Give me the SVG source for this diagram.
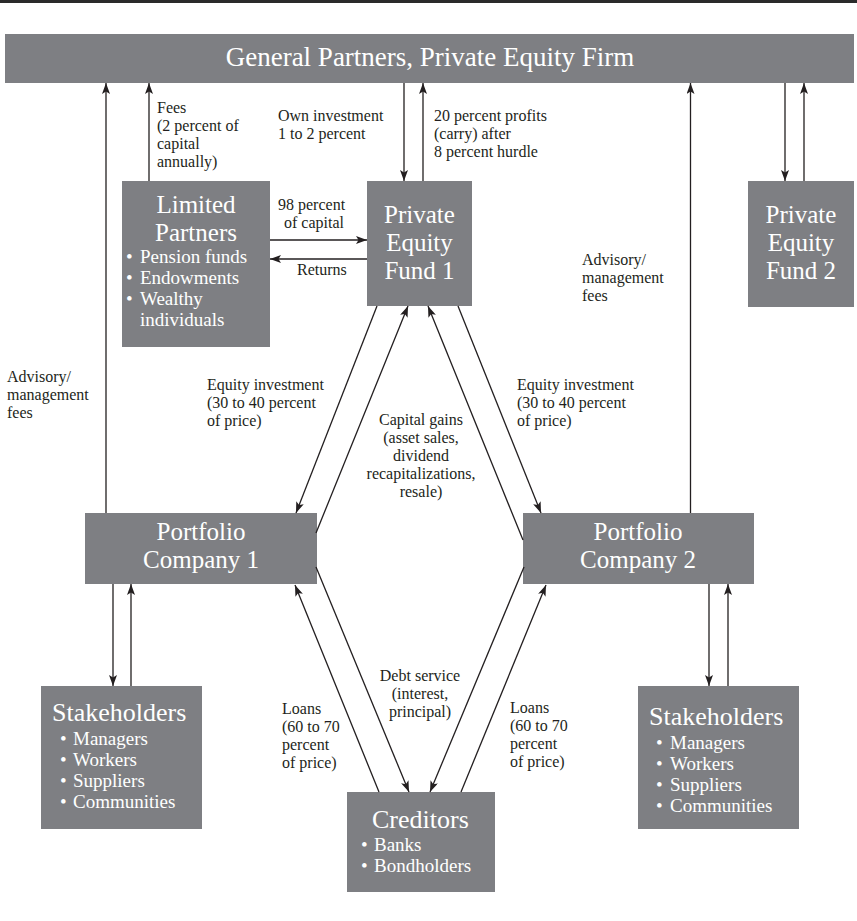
<svg xmlns="http://www.w3.org/2000/svg" width="857" height="921" viewBox="0 0 857 921">
<style>
.box{fill:#7e7f83}
.nt{font-family:"Liberation Serif","Times New Roman",serif;fill:#ffffff}
.h{font-size:26px}
.hf{font-size:25px}
.b{font-size:19px}
.lb{font-family:"Liberation Serif","Times New Roman",serif;font-size:16px;fill:#231f20}
.m{text-anchor:middle}
.c{stroke:#231f20;stroke-width:1.3;fill:none;marker-end:url(#ah)}
</style>
<defs>
<marker id="ah" markerUnits="userSpaceOnUse" markerWidth="11" markerHeight="8" refX="11" refY="4" orient="auto">
<path d="M0,0 L11,4 L0,8 L2.5,4 z" fill="#231f20"/>
</marker>
</defs>
<rect x="0" y="0" width="857" height="3" fill="#2a2a2a"/>

<g id="gp">
<rect class="box" x="5" y="34" width="849" height="49"/>
<text class="nt" x="430" y="66" font-size="27" text-anchor="middle">General Partners, Private Equity Firm</text>
</g>

<g id="lp">
<rect class="box" x="122" y="181" width="148" height="166"/>
<text class="nt"><tspan class="hf m" x="196" y="213">Limited</tspan><tspan class="hf m" x="196" y="241">Partners</tspan><tspan class="b" x="126" y="263">•</tspan><tspan class="b" x="140" y="263">Pension funds</tspan><tspan class="b" x="126" y="284">•</tspan><tspan class="b" x="140" y="284">Endowments</tspan><tspan class="b" x="126" y="305">•</tspan><tspan class="b" x="140" y="305">Wealthy</tspan><tspan class="b" x="140" y="326">individuals</tspan></text>
</g>

<g id="fund1">
<rect class="box" x="367" y="181" width="105" height="125"/>
<text class="nt hf m"><tspan x="419.5" y="223">Private</tspan><tspan x="419.5" y="251">Equity</tspan><tspan x="419.5" y="279">Fund 1</tspan></text>
</g>

<g id="fund2">
<rect class="box" x="748" y="181" width="106" height="126"/>
<text class="nt hf m"><tspan x="801" y="223">Private</tspan><tspan x="801" y="251">Equity</tspan><tspan x="801" y="279">Fund 2</tspan></text>
</g>

<g id="pc1">
<rect class="box" x="85" y="513" width="232" height="71"/>
<text class="nt hf m"><tspan x="201" y="540">Portfolio</tspan><tspan x="201" y="568">Company 1</tspan></text>
</g>

<g id="pc2">
<rect class="box" x="523" y="513" width="231" height="71"/>
<text class="nt hf m"><tspan x="638" y="540">Portfolio</tspan><tspan x="638" y="568">Company 2</tspan></text>
</g>

<g id="sh1">
<rect class="box" x="41" y="686" width="161" height="143"/>
<text class="nt"><tspan class="h" x="52" y="721">Stakeholders</tspan><tspan class="b" x="60" y="745">•</tspan><tspan class="b" x="73" y="745">Managers</tspan><tspan class="b" x="60" y="766">•</tspan><tspan class="b" x="73" y="766">Workers</tspan><tspan class="b" x="60" y="787">•</tspan><tspan class="b" x="73" y="787">Suppliers</tspan><tspan class="b" x="60" y="808">•</tspan><tspan class="b" x="73" y="808">Communities</tspan></text>
</g>

<g id="sh2">
<rect class="box" x="638" y="686" width="161" height="143"/>
<text class="nt"><tspan class="h" x="649" y="725">Stakeholders</tspan><tspan class="b" x="656" y="749">•</tspan><tspan class="b" x="670" y="749">Managers</tspan><tspan class="b" x="656" y="770">•</tspan><tspan class="b" x="670" y="770">Workers</tspan><tspan class="b" x="656" y="791">•</tspan><tspan class="b" x="670" y="791">Suppliers</tspan><tspan class="b" x="656" y="812">•</tspan><tspan class="b" x="670" y="812">Communities</tspan></text>
</g>

<g id="cred">
<rect class="box" x="347" y="792" width="148" height="100"/>
<text class="nt"><tspan class="h" x="372" y="828">Creditors</tspan><tspan class="b" x="361" y="851">•</tspan><tspan class="b" x="374" y="851">Banks</tspan><tspan class="b" x="361" y="872">•</tspan><tspan class="b" x="374" y="872">Bondholders</tspan></text>
</g>

<g id="connectors">
<line class="c" x1="106" y1="513" x2="106" y2="83"/>
<line class="c" x1="149" y1="181" x2="149" y2="83"/>
<line class="c" x1="404" y1="83" x2="404" y2="181"/>
<line class="c" x1="423" y1="181" x2="423" y2="83"/>
<line class="c" x1="690.5" y1="513" x2="690.5" y2="83"/>
<line class="c" x1="785" y1="83" x2="785" y2="181"/>
<line class="c" x1="804" y1="181" x2="804" y2="83"/>
<line class="c" x1="270" y1="240" x2="367" y2="240"/>
<line class="c" x1="367" y1="259" x2="270" y2="259"/>
<line class="c" x1="377" y1="306" x2="296" y2="513"/>
<line class="c" x1="316" y1="533" x2="408" y2="306"/>
<line class="c" x1="523" y1="540" x2="428" y2="306"/>
<line class="c" x1="458" y1="306" x2="541" y2="513"/>
<line class="c" x1="113" y1="584" x2="113" y2="686"/>
<line class="c" x1="131" y1="686" x2="131" y2="584"/>
<line class="c" x1="709" y1="584" x2="709" y2="686"/>
<line class="c" x1="728" y1="686" x2="728" y2="584"/>
<line class="c" x1="379" y1="792" x2="295" y2="585"/>
<line class="c" x1="316" y1="567" x2="409" y2="792"/>
<line class="c" x1="524" y1="567" x2="430" y2="792"/>
<line class="c" x1="461" y1="792" x2="546" y2="585"/>
</g>

<g id="labels">
<text class="lb"><tspan x="157" y="113">Fees</tspan><tspan x="157" y="131">(2 percent of</tspan><tspan x="157" y="149">capital</tspan><tspan x="157" y="167">annually)</tspan></text>
<text class="lb"><tspan x="278" y="121">Own investment</tspan><tspan x="278" y="139">1 to 2 percent</tspan></text>
<text class="lb"><tspan x="434" y="121">20 percent profits</tspan><tspan x="434" y="139">(carry) after</tspan><tspan x="434" y="157">8 percent hurdle</tspan></text>
<text class="lb"><tspan x="278" y="210">98 percent</tspan><tspan x="284" y="228">of capital</tspan></text>
<text class="lb" x="297" y="275">Returns</text>
<text class="lb"><tspan x="582" y="265">Advisory/</tspan><tspan x="582" y="283">management</tspan><tspan x="582" y="301">fees</tspan></text>
<text class="lb"><tspan x="7" y="382">Advisory/</tspan><tspan x="7" y="400">management</tspan><tspan x="7" y="418">fees</tspan></text>
<text class="lb"><tspan x="207" y="390">Equity investment</tspan><tspan x="207" y="408">(30 to 40 percent</tspan><tspan x="207" y="426">of price)</tspan></text>
<text class="lb"><tspan x="517" y="390">Equity investment</tspan><tspan x="517" y="408">(30 to 40 percent</tspan><tspan x="517" y="426">of price)</tspan></text>
<text class="lb m"><tspan x="421" y="425">Capital gains</tspan><tspan x="421" y="443">(asset sales,</tspan><tspan x="421" y="461">dividend</tspan><tspan x="421" y="479">recapitalizations,</tspan><tspan x="421" y="497">resale)</tspan></text>
<text class="lb m"><tspan x="420" y="681">Debt service</tspan><tspan x="420" y="699">(interest,</tspan><tspan x="420" y="717">principal)</tspan></text>
<text class="lb"><tspan x="282" y="714">Loans</tspan><tspan x="282" y="732">(60 to 70</tspan><tspan x="282" y="750">percent</tspan><tspan x="282" y="768">of price)</tspan></text>
<text class="lb"><tspan x="510" y="713">Loans</tspan><tspan x="510" y="731">(60 to 70</tspan><tspan x="510" y="749">percent</tspan><tspan x="510" y="767">of price)</tspan></text>
</g>
</svg>
